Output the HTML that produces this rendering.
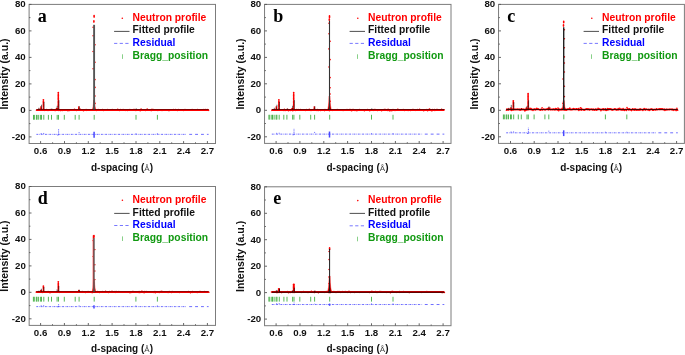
<!DOCTYPE html>
<html><head><meta charset="utf-8"><title>Neutron diffraction profiles</title>
<style>html,body{margin:0;padding:0;background:#fff}svg{display:block;will-change:transform}</style></head>
<body>
<svg width="685" height="355" viewBox="0 0 685 355" font-family="'Liberation Sans', Arial, sans-serif" font-weight="bold">
<rect width="685" height="355" fill="#fff"/>
<g><g stroke="#f00" fill="none"><path d="M36.4 110H208.6" stroke-width="2.0"/><path d="M38.4 110V109.2M40.9 110V106.9M43.4 110V99.3M51.2 110V110M56.6 110V107.5M58.3 110V92.6M78.8 110V106.7M135.7 110V109.9" stroke-width="1.8" stroke-linecap="round" stroke-dasharray="0 1.45"/><path d="M91.9 110Q93.4 108.5 93.6 100h1Q94.8 108.5 96.3 110z" fill="#f00" stroke-width="0.4"/><path d="M94.1 15.5v1.6M93.9 20.9v1.2M93.1 27.3h0M93.1 35.8h0M95 44.8h0M93.1 51.5h0M95 62.2h0M93.1 68.8h0M95 79.6h0M95 87.4h0M95 96h0M95 103.4h0M36.5 110.25h0M37 109.95h0M37.7 109.74h0M38.2 110.12h0M39 109.42h0M39.7 109.86h0M40.5 109.55h0M40.8 110.27h0M41.5 109.78h0M42.6 110.22h0M42.8 110.16h0M43.5 109.94h0M44.2 110.1h0M44.8 110.33h0M45.7 109.8h0M46.5 109.48h0M46.7 110.16h0M48 110.42h0M48.4 110.19h0M48.7 110.29h0M49.7 110.18h0M50.2 109.47h0M50.8 109.92h0M51.9 109.87h0M52.1 110.1h0M52.7 110.18h0M53.9 110.15h0M54.5 110.33h0M54.7 109.95h0M55.5 110.38h0M56.3 109.53h0M56.8 110.14h0M57.5 109.7h0M58.6 109.62h0M58.9 110.39h0M59.8 109.91h0M60 110.07h0M60.8 110.61h0M61.8 109.83h0M62.4 110.47h0M63.1 109.78h0M63.4 110h0M64.1 109.78h0M65.1 110.09h0M65.8 109.93h0M66.2 109.85h0M67.3 109.94h0M67.5 110.4h0M68 110.63h0M69 109.86h0M69.6 110.4h0M70.4 109.75h0M70.7 110.18h0M71.6 109.92h0M72.2 110.06h0M72.9 110.01h0M73.5 109.87h0M74.5 109.36h0M74.7 110.24h0M75.9 110.17h0M76.4 110.4h0M77.1 110.31h0M77.4 109.79h0M78 109.85h0M79.1 109.84h0M79.8 110.08h0M80.4 109.42h0M80.7 110.07h0M81.6 110.17h0M82.3 109.78h0M82.8 110.23h0M83.5 110.64h0M84.1 110.12h0M84.9 110.17h0M85.7 110.06h0M86.1 109.55h0M86.7 110.34h0M87.6 110.04h0M88 110.19h0M89.1 110.09h0M89.8 110.03h0M90.1 109.95h0M90.8 110.12h0M91.8 110.17h0M92.4 110.27h0M93.1 109.78h0M93.6 109.83h0M94.3 109.83h0M95 109.75h0M95.6 110.01h0M96 110h0M96.8 110.54h0M97.6 110.14h0M98.2 109.56h0M98.7 110.3h0M99.5 110.08h0M100.2 110.02h0M100.9 110.1h0M101.3 110.19h0M102.2 110.24h0M102.6 109.67h0M103.6 110.51h0M104.2 109.85h0M105 109.86h0M105.4 110.03h0M106.4 110.06h0M106.8 109.79h0M107.7 109.55h0M107.9 110.25h0M108.8 109.99h0M109.3 109.92h0M110 110.04h0M111 109.87h0M111.2 110.17h0M112.2 109.56h0M113.1 109.94h0M113.5 110.3h0M114.1 109.88h0M114.9 110.28h0M115.6 110.31h0M116.4 110.22h0M116.6 110.24h0M117.7 109.38h0M118.2 110.18h0M118.8 110.11h0M119.4 110.46h0M120.1 110.15h0M120.8 109.64h0M121.8 110.1h0M122.2 110.18h0M123.1 109.43h0M123.4 110.08h0M124.2 110.05h0M124.6 110.14h0M125.4 110.35h0M126.2 110.09h0M127.1 109.68h0M127.7 110.46h0M128.2 109.92h0M128.8 109.86h0M129.7 109.8h0M129.9 109.53h0M130.9 109.85h0M131.4 109.93h0M131.9 110.05h0M132.9 110.12h0M133.7 109.62h0M134.3 109.91h0M134.5 109.46h0M135.3 110.14h0M135.9 110.49h0M136.8 110.05h0M137.4 109.77h0M138.2 109.99h0M138.7 110.25h0M139.4 109.77h0M140.2 110.79h0M141.1 109.17h0M141.6 109.74h0M142 109.95h0M142.9 110.28h0M143.6 110.06h0M143.9 110.1h0M144.6 110.16h0M145.6 110.38h0M146.1 109.98h0M146.5 109.83h0M147.2 109.16h0M148.2 110.17h0M148.7 110.31h0M149.3 110.11h0M150 109.93h0M151 110.48h0M151.7 110.43h0M152 109.34h0M152.7 110.01h0M153.2 109.96h0M153.8 109.55h0M155 109.87h0M155.3 110.14h0M156.3 110.1h0M156.7 110.23h0M157.6 109.84h0M157.9 110.52h0M158.9 110.3h0M159.7 109.83h0M160 110.04h0M161 110.18h0M161.5 109.82h0M162 110.48h0M162.8 110.13h0M163.5 110.13h0M164.3 110.11h0M164.7 110.11h0M165.3 110.11h0M165.8 110.16h0M166.7 109.76h0M167.6 109.93h0M168.1 109.99h0M168.5 110.44h0M169.4 110.38h0M169.9 109.97h0M170.6 109.92h0M171.5 110.03h0M172 109.99h0M172.6 110.05h0M173.4 109.62h0M173.9 109.98h0M175 110.22h0M175.6 109.56h0M176.3 109.79h0M177 109.95h0M177.4 110.39h0M178.2 109.77h0M178.8 109.55h0M179.1 110.28h0M180 109.87h0M180.6 110.31h0M181.7 109.86h0M182.3 110.14h0M182.5 109.91h0M183.3 110.51h0M183.8 109.94h0M185 109.43h0M185.4 109.68h0M186.2 110.22h0M186.6 109.94h0M187.1 110.21h0M187.9 109.78h0M188.6 110.22h0M189.3 110.28h0M190.2 110.07h0M190.4 110.24h0M191.6 110.03h0M192.1 109.63h0M192.5 109.87h0M193.2 109.97h0M194.1 110.1h0M194.5 110.32h0M195.1 110.11h0M196.3 109.9h0M196.7 110.06h0M197.6 109.62h0M198.3 110.22h0M198.5 110.07h0M199.4 109.7h0M200.1 110.11h0M200.7 109.78h0M201.4 110.24h0M202 110.31h0M202.4 109.97h0M203.3 109.99h0M203.9 109.62h0M204.8 109.77h0M205.6 109.49h0M205.7 110.18h0M206.9 110.32h0M207.2 109.53h0M207.9 109.86h0M208.6 110.34h0" stroke-width="1.6" stroke-linecap="round"/></g><path d="M36.4 109.5H208.6" stroke="#000" stroke-opacity="0.48" stroke-width="1.0" fill="none"/><path d="M38.9 109.5V107.78M41.5 109.5V104.73M44 109.5V101.95M51.8 109.5V108.44M57.2 109.5V105.79M58.9 109.5V99.96M79.3 109.5V106.32M136.2 109.5V108.31" stroke="#000" stroke-opacity=".72" stroke-width="0.8" fill="none"/><path d="M92.7 110Q93.7 108.5 93.8 101.5h.6Q94.5 108.5 95.5 110z" fill="#000" fill-opacity=".5"/><path d="M94.1 109.5V24.8" stroke="#555" stroke-width="1.9" fill="none"/><path d="M33.5 114.9v4.8M34.4 114.9v4.8M36.4 114.9v4.8M37.1 114.9v4.8M38.7 114.9v4.8M40.6 114.9v4.8M41.5 114.9v4.8M43.8 114.9v4.8M48.4 114.9v4.8M51.5 114.9v4.8M57.2 114.9v4.8M58.5 114.9v4.8M64.3 114.9v4.8M75.2 114.9v4.8M79.1 114.9v4.8M94.2 114.9v4.8M136 114.9v4.8M157.4 114.9v4.8" stroke="#2aa52a" stroke-width="0.8" fill="none"/><g fill="none" stroke="#4848ff" stroke-width="0.8"><path d="M36.4 134.36H186.8" stroke-dasharray="1.9 .9 .6 .9"/><path d="M189.2 134.36H208.6" stroke-dasharray="2.9 3"/><path d="M58.6 135.26V129.06" stroke-dasharray="1.1 .7"/><path d="M57.7 135.56v-1M79.1 133.16v-1M41.2 133.96v-0.9M43.7 133.96v-1M136 133.96v-.7M157.4 133.96v-.7"/><path d="M94.1 131.76V137.76" stroke-width="1.5"/></g><rect x="29.1" y="4.4" width="186.4" height="139.1" fill="none" stroke="#7c7c7c" stroke-width="1"/><path d="M29.1 136.9h2.4M29.1 123.6h1.3M29.1 110.4h2.4M29.1 97.1h1.3M29.1 83.9h2.4M29.1 70.6h1.3M29.1 57.4h2.4M29.1 44.1h1.3M29.1 30.9h2.4M29.1 17.6h1.3M29.1 4.4h2.4M40.6 143.5v-2.4M52.6 143.5v-1.2M64.5 143.5v-2.4M76.4 143.5v-1.2M88.3 143.5v-2.4M100.2 143.5v-1.2M112.1 143.5v-2.4M124 143.5v-1.2M136 143.5v-2.4M147.9 143.5v-1.2M159.8 143.5v-2.4M171.7 143.5v-1.2M183.6 143.5v-2.4M195.5 143.5v-1.2M207.4 143.5v-2.4" stroke="#555" stroke-width="0.9" fill="none"/><text x="25.7" y="139.8" font-size="9.7" text-anchor="end" fill="#111">-20</text><text x="25.7" y="113.3" font-size="9.7" text-anchor="end" fill="#111">0</text><text x="25.7" y="86.8" font-size="9.7" text-anchor="end" fill="#111">20</text><text x="25.7" y="60.3" font-size="9.7" text-anchor="end" fill="#111">40</text><text x="25.7" y="33.8" font-size="9.7" text-anchor="end" fill="#111">60</text><text x="25.7" y="7.4" font-size="9.7" text-anchor="end" fill="#111">80</text><text x="40.6" y="154" font-size="9.7" text-anchor="middle" fill="#111">0.6</text><text x="64.5" y="154" font-size="9.7" text-anchor="middle" fill="#111">0.9</text><text x="88.3" y="154" font-size="9.7" text-anchor="middle" fill="#111">1.2</text><text x="112.1" y="154" font-size="9.7" text-anchor="middle" fill="#111">1.5</text><text x="136" y="154" font-size="9.7" text-anchor="middle" fill="#111">1.8</text><text x="159.8" y="154" font-size="9.7" text-anchor="middle" fill="#111">2.1</text><text x="183.6" y="154" font-size="9.7" text-anchor="middle" fill="#111">2.4</text><text x="207.4" y="154" font-size="9.7" text-anchor="middle" fill="#111">2.7</text><text x="122" y="170.6" font-size="10" text-anchor="middle" fill="#111">d-spacing (<tspan font-size="8" font-weight="normal" fill="#444">Å</tspan>)</text><text transform="translate(8.3 74) rotate(-90)" font-size="10.5" text-anchor="middle" fill="#111">Intensity (a.u.)</text><text x="37.7" y="21.6" font-family="'Liberation Serif', 'Times New Roman', serif" font-size="18" fill="#000">a</text><circle cx="122.3" cy="18.2" r="0.8" fill="#f00"/><text x="132.5" y="20.7" font-size="10.3" fill="#f00">Neutron profile</text><path d="M114.1 31.4h15.4" stroke="#222" stroke-width="0.8"/><text x="132.5" y="33.4" font-size="10.3" fill="#111">Fitted profile</text><path d="M114.1 43.4h15.4" stroke="#55f" stroke-width="0.8" stroke-dasharray="3.2 2.4"/><text x="132.5" y="46" font-size="10.3" fill="#00f">Residual</text><path d="M122.5 54.3v4.6" stroke="#5b5" stroke-width="0.7"/><text x="132.5" y="58.6" font-size="10.3" fill="#191">Bragg_position</text></g>
<g><g stroke="#f00" fill="none"><path d="M271.8 110H444.3" stroke-width="2.0"/><path d="M273.8 110V109.1M276.3 110V106.9M278.9 110V99.2M286.6 110V109.9M292.1 110V107.4M293.7 110V92.6M314.3 110V106.6M371.2 110V109.8" stroke-width="1.8" stroke-linecap="round" stroke-dasharray="0 1.45"/><path d="M327.2 110Q328.8 108.5 329 96h1Q330.2 108.5 331.8 110z" fill="#f00" stroke-width="0.4"/><path d="M329.5 15.9v1.6M329.3 19.1v1.2M329 23.3h0M329 33.7h0M330.1 41.2h0M329 48.9h0M330.1 59.6h0M329 67h0M330.1 77.6h0M330.1 87.8h0M330.1 94h0M330.1 101.2h0M271.9 110.33h0M272.7 110.01h0M273.3 110.32h0M273.8 110.1h0M274.6 109.89h0M275 110h0M275.5 110.14h0M276.3 110.17h0M277.2 110.15h0M277.9 109.74h0M278.5 109.72h0M279.1 109.64h0M279.5 109.95h0M280.2 110.07h0M281.1 109.96h0M281.8 110.09h0M282.2 109.92h0M283 110.23h0M283.9 110.4h0M284.4 109.39h0M285.3 110.47h0M285.5 110.3h0M286.2 110.08h0M286.8 110.14h0M287.6 109.21h0M288.5 110.69h0M288.9 110.25h0M289.6 109.9h0M290.4 110.49h0M291.2 110.17h0M291.5 109.57h0M292.4 110.58h0M293.2 110.52h0M293.6 109.95h0M294.4 110.07h0M295.3 110.46h0M295.6 110.27h0M296.4 109.53h0M297.4 109.72h0M297.9 109.68h0M298.2 109.62h0M299 109.69h0M299.5 109.94h0M300.6 109.57h0M301.2 109.94h0M301.7 110.14h0M302.5 110.07h0M303.2 110.14h0M303.6 109.8h0M304.2 110.11h0M304.8 109.85h0M305.8 110.44h0M306.3 109.48h0M307.1 109.97h0M307.5 110.12h0M308.6 109.93h0M309.3 109.31h0M309.6 110.06h0M310.5 110.34h0M311.3 110.34h0M311.9 109.77h0M312.2 110.25h0M313 110.26h0M313.5 110.24h0M314.5 109.87h0M315.3 110.07h0M315.9 109.92h0M316.2 110.2h0M317 110.51h0M317.7 109.66h0M318.4 110.5h0M319 109.73h0M319.7 109.79h0M320.6 110.47h0M321 110.04h0M322 109.98h0M322.6 110.26h0M323 110.03h0M323.6 110.13h0M324.4 110.61h0M325 109.67h0M325.8 109.73h0M326.1 110.1h0M327.2 109.77h0M327.7 109.82h0M328.4 109.78h0M329.3 110.61h0M329.8 110.45h0M330.4 109.95h0M330.8 110.14h0M331.5 110.29h0M332.5 110.36h0M333.1 109.68h0M333.5 110.05h0M334.1 109.9h0M334.8 110.3h0M335.5 110.03h0M336.5 109.95h0M337.2 109.56h0M337.6 109.72h0M338.1 109.82h0M339.1 110.22h0M339.4 109.8h0M340.4 109.86h0M340.8 110.04h0M341.6 109.9h0M342.4 110.06h0M343.1 110.48h0M343.5 109.83h0M344.4 110.07h0M345.1 109.83h0M345.6 110.06h0M346.1 109.73h0M347 109.66h0M347.7 110.15h0M348.1 110.21h0M348.8 109.69h0M349.4 109.64h0M350.3 109.57h0M350.7 109.8h0M351.5 110.75h0M352.2 109.62h0M352.9 110.35h0M353.7 109.56h0M354.4 110.34h0M354.9 109.76h0M355.5 110.36h0M356.4 109.88h0M356.9 110.65h0M357.7 110.29h0M358.4 110.2h0M359.1 110.08h0M359.6 109.6h0M360.1 109.89h0M361 110.21h0M361.6 109.72h0M362.4 109.96h0M363.2 109.72h0M363.6 110.15h0M364.4 110.65h0M364.7 109.94h0M365.6 110.15h0M366.5 109.85h0M366.7 110.06h0M367.6 109.66h0M368.4 110.29h0M368.9 110.15h0M369.7 110.78h0M370.3 110.31h0M371 110.02h0M371.7 110.31h0M372.6 110.09h0M373.3 110.03h0M373.8 110.34h0M374.1 109.48h0M375.1 109.48h0M375.6 110.01h0M376.2 110.32h0M377.3 110.08h0M377.6 110.44h0M378.6 110.07h0M378.8 109.98h0M379.5 110.31h0M380.5 110.16h0M381.2 110.08h0M381.6 110.64h0M382.2 110.08h0M382.8 110.19h0M383.4 110.13h0M384.1 109.55h0M384.8 109.63h0M385.5 109.65h0M386.5 109.99h0M387.1 110.18h0M387.7 110.42h0M388.1 109.38h0M388.9 109.92h0M389.4 110.65h0M390.1 110.75h0M391.1 110.26h0M391.8 110.73h0M392.3 109.86h0M393 109.59h0M393.8 109.97h0M394.5 110.11h0M395 110.4h0M395.7 110.27h0M396.5 110.12h0M397.3 110.02h0M397.6 109.35h0M398.5 110.03h0M398.8 109.56h0M399.8 109.74h0M400.2 109.81h0M401.2 110.26h0M401.7 110.23h0M402.2 110.03h0M403.2 109.58h0M403.8 110.03h0M404.4 110.43h0M405 110.26h0M405.6 110.22h0M406.3 109.89h0M407.1 109.77h0M407.8 110.12h0M408.1 110.39h0M408.9 109.95h0M409.6 110.16h0M410.5 110.41h0M411.1 109.78h0M411.9 109.93h0M412.4 109.55h0M413.1 109.72h0M413.8 109.43h0M414.1 109.96h0M415.1 110.34h0M415.9 110.16h0M416.5 110.06h0M416.7 110.15h0M417.7 109.59h0M418.2 109.7h0M419.3 110.13h0M419.6 109.4h0M420.6 109.82h0M421.1 109.82h0M421.6 109.95h0M422.3 109.74h0M422.9 110.02h0M423.7 110.68h0M424.3 110.04h0M425.3 109.89h0M425.4 110.17h0M426.2 110.12h0M426.9 109.44h0M427.6 110.69h0M428.2 109.98h0M428.8 109.62h0M429.6 109.16h0M430.5 110.26h0M431 110.23h0M431.5 110.72h0M432.3 109.59h0M432.8 110.43h0M433.5 110.31h0M434.5 109.64h0M434.9 110.47h0M435.8 109.87h0M436.4 109.65h0M437.1 110.17h0M437.6 109.57h0M438 110.01h0M439 109.99h0M439.6 110.18h0M440 110.07h0M440.7 110.12h0M441.6 109.37h0M442 109.92h0M443.2 109.95h0M443.5 110.06h0M444 109.87h0" stroke-width="1.6" stroke-linecap="round"/></g><path d="M271.8 109.5H444.3" stroke="#000" stroke-opacity="0.55" stroke-width="1.0" fill="none"/><path d="M274.3 109.5V107.78M276.9 109.5V104.73M279.4 109.5V101.95M287.2 109.5V108.44M292.6 109.5V105.79M294.3 109.5V99.97M314.8 109.5V106.32M371.8 109.5V108.31" stroke="#000" stroke-opacity=".72" stroke-width="0.8" fill="none"/><path d="M328 110Q329.1 108.5 329.2 97.5h.6Q329.9 108.5 331 110z" fill="#000" fill-opacity=".5"/><path d="M329.5 109.5V20.8" stroke="#333" stroke-width="1.1" fill="none"/><path d="M268.9 114.8v4.8M269.8 114.8v4.8M271.8 114.8v4.8M272.5 114.8v4.8M274.1 114.8v4.8M276.1 114.8v4.8M276.9 114.8v4.8M279.2 114.8v4.8M283.8 114.8v4.8M286.9 114.8v4.8M292.6 114.8v4.8M293.9 114.8v4.8M299.8 114.8v4.8M310.7 114.8v4.8M314.6 114.8v4.8M329.7 114.8v4.8M371.5 114.8v4.8M393 114.8v4.8" stroke="#2aa52a" stroke-width="0.8" fill="none"/><g fill="none" stroke="#4848ff" stroke-width="0.8"><path d="M271.8 134.13H422.4" stroke-dasharray="1.9 .9 .6 .9"/><path d="M424.8 134.13H444.3" stroke-dasharray="2.9 3"/><path d="M294 135.03V128.83" stroke-dasharray="1.1 .7"/><path d="M293.1 135.33v-1M314.6 132.93v-1M276.6 133.73v-0.9M279.2 133.73v-1M371.5 133.73v-.7M393 133.73v-.7"/><path d="M329.5 131.53V137.53" stroke-width="1.5"/></g><rect x="264.55" y="4.4" width="186.45" height="139" fill="none" stroke="#7c7c7c" stroke-width="1"/><path d="M264.6 136.8h2.4M264.6 123.5h1.3M264.6 110.3h2.4M264.6 97.1h1.3M264.6 83.8h2.4M264.6 70.6h1.3M264.6 57.4h2.4M264.6 44.1h1.3M264.6 30.9h2.4M264.6 17.6h1.3M264.6 4.4h2.4M276.1 143.4v-2.4M288 143.4v-1.2M299.9 143.4v-2.4M311.8 143.4v-1.2M323.8 143.4v-2.4M335.7 143.4v-1.2M347.6 143.4v-2.4M359.6 143.4v-1.2M371.5 143.4v-2.4M383.4 143.4v-1.2M395.4 143.4v-2.4M407.3 143.4v-1.2M419.2 143.4v-2.4M431.2 143.4v-1.2M443.1 143.4v-2.4" stroke="#555" stroke-width="0.9" fill="none"/><text x="261.2" y="139.7" font-size="9.7" text-anchor="end" fill="#111">-20</text><text x="261.2" y="113.3" font-size="9.7" text-anchor="end" fill="#111">0</text><text x="261.2" y="86.8" font-size="9.7" text-anchor="end" fill="#111">20</text><text x="261.2" y="60.3" font-size="9.7" text-anchor="end" fill="#111">40</text><text x="261.2" y="33.8" font-size="9.7" text-anchor="end" fill="#111">60</text><text x="261.2" y="7.4" font-size="9.7" text-anchor="end" fill="#111">80</text><text x="276.1" y="153.9" font-size="9.7" text-anchor="middle" fill="#111">0.6</text><text x="299.9" y="153.9" font-size="9.7" text-anchor="middle" fill="#111">0.9</text><text x="323.8" y="153.9" font-size="9.7" text-anchor="middle" fill="#111">1.2</text><text x="347.6" y="153.9" font-size="9.7" text-anchor="middle" fill="#111">1.5</text><text x="371.5" y="153.9" font-size="9.7" text-anchor="middle" fill="#111">1.8</text><text x="395.4" y="153.9" font-size="9.7" text-anchor="middle" fill="#111">2.1</text><text x="419.2" y="153.9" font-size="9.7" text-anchor="middle" fill="#111">2.4</text><text x="443.1" y="153.9" font-size="9.7" text-anchor="middle" fill="#111">2.7</text><text x="357.5" y="170.5" font-size="10" text-anchor="middle" fill="#111">d-spacing (<tspan font-size="8" font-weight="normal" fill="#444">Å</tspan>)</text><text transform="translate(243.8 74) rotate(-90)" font-size="10.5" text-anchor="middle" fill="#111">Intensity (a.u.)</text><text x="273.2" y="21.6" font-family="'Liberation Serif', 'Times New Roman', serif" font-size="18" fill="#000">b</text><circle cx="357.8" cy="18.2" r="0.8" fill="#f00"/><text x="368" y="20.7" font-size="10.3" fill="#f00">Neutron profile</text><path d="M349.6 31.4h15.4" stroke="#222" stroke-width="0.8"/><text x="368" y="33.4" font-size="10.3" fill="#111">Fitted profile</text><path d="M349.6 43.4h15.4" stroke="#55f" stroke-width="0.8" stroke-dasharray="3.2 2.4"/><text x="368" y="46" font-size="10.3" fill="#00f">Residual</text><path d="M357.5 54.3v4.6" stroke="#5b5" stroke-width="0.7"/><text x="368" y="58.6" font-size="10.3" fill="#191">Bragg_position</text></g>
<g><g stroke="#f00" fill="none"><path d="M506.2 109.5H677.8" stroke-width="1.7"/><path d="M508.2 109.5V109.2M510.8 109.5V107M513.3 109.5V99.5M521 109.5V109.9M526.4 109.5V107.5M528.1 109.5V93.1M548.5 109.5V106.7M605.1 109.5V109.8" stroke-width="1.8" stroke-linecap="round" stroke-dasharray="0 1.45"/><path d="M561.6 109.5Q563 108 563.2 100.5h1Q564.4 108 565.8 109.5z" fill="#f00" stroke-width="0.4"/><path d="M563.7 21.2v1.6M563.5 24.9v1.2M564.4 29.7h0M564.4 38.7h0M564.4 47.8h0M564.4 56.9h0M564.4 63h0M564.4 72h0M563 79h0M564.4 86.2h0M564.4 96.6h0M563 103.4h0M506.4 110.32h0M507 109.02h0M507.5 109.78h0M508.3 110.07h0M508.7 109.25h0M509.3 109.34h0M510.5 109.45h0M510.9 109.31h0M511.6 110.46h0M512.3 110.01h0M513.1 108.84h0M513.3 109.6h0M514 109.34h0M515 109.63h0M515.2 109.19h0M516.3 109.56h0M516.8 109.34h0M517.7 109.47h0M517.9 109.08h0M519 109.74h0M519.4 109.36h0M520.1 110.3h0M520.7 109.69h0M521.6 108.83h0M522.2 109.6h0M522.5 109.49h0M523.7 109.31h0M524.3 110.23h0M524.9 110.94h0M525.6 110.26h0M526.4 108.62h0M527 109.81h0M527.1 109.8h0M527.9 109.17h0M528.5 109.29h0M529.1 109.2h0M530 108.3h0M531 108.44h0M531.4 109.76h0M531.9 109.38h0M533 110.39h0M533.1 109.98h0M534.1 109.17h0M534.9 108.94h0M535.2 109.89h0M535.9 109.4h0M536.8 108.29h0M537.3 108.97h0M538.1 108.92h0M538.4 109.13h0M539.5 109.77h0M539.9 109.93h0M540.6 110.29h0M541.4 109.24h0M542.1 107.85h0M542.4 109.91h0M543.1 109.52h0M543.9 109.07h0M544.7 109.68h0M545.1 109.89h0M545.9 109.36h0M546.6 109.23h0M547.4 108.76h0M548.1 108.8h0M548.8 109.2h0M549.6 109.12h0M549.9 107.97h0M550.6 109.63h0M551.4 109.45h0M552.2 109.42h0M552.7 109.74h0M553.4 109.02h0M554.1 109.18h0M554.3 109.87h0M555.5 108.58h0M555.7 109.81h0M556.4 108.91h0M557.5 109.95h0M558 108.1h0M558.7 110.69h0M559 109.1h0M559.9 109.75h0M560.4 109.47h0M561.1 109.9h0M562.1 108.65h0M562.5 109.61h0M563 109.76h0M564.1 109.77h0M564.3 108.63h0M565 110.28h0M565.8 109.42h0M566.4 110.31h0M567.1 109.65h0M567.9 108.99h0M568.2 108.95h0M568.9 109.37h0M569.8 108.17h0M570.3 109.64h0M570.9 109.21h0M571.9 109.85h0M572.5 108.96h0M572.9 109.24h0M573.7 108.54h0M574.2 108.92h0M575.2 109.38h0M575.7 109.2h0M576.3 108.87h0M576.9 108.98h0M577.9 109.42h0M578.4 108.59h0M578.9 110.41h0M579.6 109.33h0M580.4 107.87h0M581.2 110.15h0M581.5 108.33h0M582.7 109.49h0M583.3 109.99h0M583.8 109.68h0M584.5 110.11h0M584.8 110.09h0M585.7 109.27h0M586.5 108.91h0M587.3 109.36h0M587.8 108.79h0M588.1 109.5h0M588.9 108.98h0M589.5 109.91h0M590.3 109.37h0M591.3 109.27h0M591.8 109.13h0M592.5 109.91h0M593.3 109.24h0M593.9 109.6h0M594.2 110.16h0M594.9 109.9h0M595.8 108.96h0M596.2 109.64h0M596.7 110.14h0M597.4 109.39h0M598.1 108.36h0M599.2 109.06h0M599.8 109.06h0M600.4 109.46h0M600.9 110.78h0M601.5 109.82h0M602.3 109.13h0M603.2 110.07h0M603.5 108.71h0M604.1 109.22h0M604.8 109.78h0M605.4 109.28h0M606.1 110.44h0M606.9 110.31h0M607.5 108.48h0M608.3 109.65h0M608.6 108.8h0M609.6 108.78h0M610.1 108.74h0M610.8 109.08h0M611.6 109.27h0M612.1 110.25h0M612.9 109.81h0M613.3 109.65h0M613.9 109.56h0M614.7 108.83h0M615.7 109.17h0M616.2 109.99h0M617 109.83h0M617.6 109.73h0M618.2 108.57h0M618.7 109.72h0M619.7 108.32h0M620 108.74h0M620.7 109.82h0M621.5 109.24h0M622.1 110.15h0M623.1 108.45h0M623.6 109.82h0M623.9 110.31h0M624.5 110.46h0M625.5 109.57h0M626.4 110.5h0M627 107.62h0M627.5 108.91h0M628.3 109.17h0M628.5 109.84h0M629.5 108.88h0M629.9 109.7h0M630.8 109.88h0M631.5 110.59h0M632.2 109.68h0M632.7 108.91h0M633.5 109.59h0M634.2 110.27h0M635 108.81h0M635.1 109.96h0M636 109.66h0M636.7 110.16h0M637.6 109.81h0M637.9 109.92h0M639 110.11h0M639.1 110.16h0M640.1 108.89h0M640.5 109.86h0M641.5 109.56h0M642 109.81h0M642.9 110.47h0M643.3 109.58h0M644.2 108.66h0M644.6 108.75h0M645.3 110.08h0M646.2 109.16h0M646.8 109.53h0M647.4 109.71h0M648.1 109.66h0M648.7 109.47h0M649.2 110.51h0M650 109.93h0M650.5 109.18h0M651.4 108.96h0M651.9 109.09h0M652.6 110.18h0M653.5 110.13h0M653.8 109.97h0M654.4 109.54h0M655.6 109.94h0M656 109.59h0M656.5 108.75h0M657.1 109.7h0M658.2 109.2h0M658.6 109.23h0M659.3 108.72h0M659.9 109.4h0M660.3 108.86h0M661.3 108.81h0M661.8 109.17h0M662.3 108.83h0M663.4 109.75h0M664.1 109.16h0M664.7 109.55h0M664.9 110.39h0M666.1 109.69h0M666.5 109.29h0M667 109.85h0M667.9 109.46h0M668.2 109.44h0M669.4 109.6h0M669.6 109.41h0M670.2 109.21h0M671.4 109.27h0M671.8 109.73h0M672.4 109.18h0M673.2 110.33h0M674 109.71h0M674.4 109.79h0M675.3 109.7h0M676.1 110.59h0M676.4 110.15h0M676.9 108.35h0M677.7 110.28h0" stroke-width="1.6" stroke-linecap="round"/></g><path d="M506.2 109.5H677.8" stroke="#000" stroke-opacity="0.7" stroke-width="1.0" fill="none"/><path d="M508.8 109.5V107.83M511.3 109.5V104.88M513.8 109.5V102.18M521.6 109.5V108.47M527 109.5V105.9M528.6 109.5V100.25M549 109.5V106.42M605.7 109.5V108.34" stroke="#000" stroke-opacity=".72" stroke-width="0.8" fill="none"/><path d="M562.4 110Q563.3 108.5 563.4 102.5h.6Q564.1 108.5 565 110z" fill="#000" fill-opacity=".5"/><path d="M563.7 109.5V27.2" stroke="#222" stroke-width="1.4" fill="none"/><path d="M503.4 114.5v4.8M504.3 114.5v4.8M506.2 114.5v4.8M506.9 114.5v4.8M508.5 114.5v4.8M510.5 114.5v4.8M511.4 114.5v4.8M513.7 114.5v4.8M518.3 114.5v4.8M521.3 114.5v4.8M527 114.5v4.8M528.3 114.5v4.8M534.1 114.5v4.8M544.9 114.5v4.8M548.8 114.5v4.8M563.8 114.5v4.8M605.4 114.5v4.8M626.8 114.5v4.8" stroke="#2aa52a" stroke-width="0.8" fill="none"/><g fill="none" stroke="#4848ff" stroke-width="0.8"><path d="M506.2 132.81H656" stroke-dasharray="1.9 .9 .6 .9"/><path d="M658.4 132.81H677.8" stroke-dasharray="2.9 3"/><path d="M528.4 133.67V127.72" stroke-dasharray="1.1 .7"/><path d="M527.5 133.96v-1M548.8 131.66v-0.96M511.1 132.41v-0.9M513.6 132.41v-1M605.4 132.41v-.7M626.8 132.41v-.7"/><path d="M563.7 130.31V136.08" stroke-width="1.5"/></g><rect x="498.55" y="4.4" width="185.85" height="139" fill="none" stroke="#7c7c7c" stroke-width="1"/><path d="M498.6 136.8h2.4M498.6 123.5h1.3M498.6 110.3h2.4M498.6 97.1h1.3M498.6 83.8h2.4M498.6 70.6h1.3M498.6 57.4h2.4M498.6 44.1h1.3M498.6 30.9h2.4M498.6 17.6h1.3M498.6 4.4h2.4M510.5 143.4v-2.4M522.4 143.4v-1.2M534.2 143.4v-2.4M546.1 143.4v-1.2M558 143.4v-2.4M569.8 143.4v-1.2M581.7 143.4v-2.4M593.5 143.4v-1.2M605.4 143.4v-2.4M617.3 143.4v-1.2M629.1 143.4v-2.4M641 143.4v-1.2M652.9 143.4v-2.4M664.7 143.4v-1.2M676.6 143.4v-2.4" stroke="#555" stroke-width="0.9" fill="none"/><text x="495.2" y="139.7" font-size="9.7" text-anchor="end" fill="#111">-20</text><text x="495.2" y="113.3" font-size="9.7" text-anchor="end" fill="#111">0</text><text x="495.2" y="86.8" font-size="9.7" text-anchor="end" fill="#111">20</text><text x="495.2" y="60.3" font-size="9.7" text-anchor="end" fill="#111">40</text><text x="495.2" y="33.8" font-size="9.7" text-anchor="end" fill="#111">60</text><text x="495.2" y="7.4" font-size="9.7" text-anchor="end" fill="#111">80</text><text x="510.5" y="153.9" font-size="9.7" text-anchor="middle" fill="#111">0.6</text><text x="534.2" y="153.9" font-size="9.7" text-anchor="middle" fill="#111">0.9</text><text x="558" y="153.9" font-size="9.7" text-anchor="middle" fill="#111">1.2</text><text x="581.7" y="153.9" font-size="9.7" text-anchor="middle" fill="#111">1.5</text><text x="605.4" y="153.9" font-size="9.7" text-anchor="middle" fill="#111">1.8</text><text x="629.1" y="153.9" font-size="9.7" text-anchor="middle" fill="#111">2.1</text><text x="652.9" y="153.9" font-size="9.7" text-anchor="middle" fill="#111">2.4</text><text x="676.6" y="153.9" font-size="9.7" text-anchor="middle" fill="#111">2.7</text><text x="591.2" y="170.5" font-size="10" text-anchor="middle" fill="#111">d-spacing (<tspan font-size="8" font-weight="normal" fill="#444">Å</tspan>)</text><text transform="translate(477.8 74) rotate(-90)" font-size="10.5" text-anchor="middle" fill="#111">Intensity (a.u.)</text><text x="507.2" y="21.6" font-family="'Liberation Serif', 'Times New Roman', serif" font-size="18" fill="#000">c</text><circle cx="591.8" cy="18.2" r="0.8" fill="#f00"/><text x="602" y="20.7" font-size="10.3" fill="#f00">Neutron profile</text><path d="M583.6 31.4h15.4" stroke="#222" stroke-width="0.8"/><text x="602" y="33.4" font-size="10.3" fill="#111">Fitted profile</text><path d="M583.6 43.4h15.4" stroke="#55f" stroke-width="0.8" stroke-dasharray="3.2 2.4"/><text x="602" y="46" font-size="10.3" fill="#00f">Residual</text><path d="M591.5 54.3v4.6" stroke="#5b5" stroke-width="0.7"/><text x="602" y="58.6" font-size="10.3" fill="#191">Bragg_position</text></g>
<g><g stroke="#f00" fill="none"><path d="M36.3 292H208.6" stroke-width="2.0"/><path d="M38.3 292V291.9M40.9 292V290.5M43.4 292V285.7M56.6 292V290.8M58.3 292V281.6M78.8 292V290.3" stroke-width="1.8" stroke-linecap="round" stroke-dasharray="0 1.45"/><path d="M93.4 292V235.7" stroke-width="1.3" stroke-linecap="round"/><path d="M91.7 292Q93.3 290.5 93.5 280h1Q94.7 290.5 96.3 292z" fill="#f00" stroke-width="0.4"/><path d="M94 235.6v1.6M93.3 240.6h0M94.8 249.6h0M93.3 256.5h0M94.8 264.7h0M94.8 271.1h0M94.8 279.6h0M36.3 292.15h0M37.1 291.75h0M37.7 291.71h0M38.1 292.1h0M39.3 291.9h0M39.9 292.31h0M40.1 292.27h0M41.1 292.05h0M41.8 292.21h0M42.2 292.38h0M43.1 291.75h0M43.8 292.09h0M44.4 292.08h0M45.3 291.84h0M45.6 291.95h0M46.5 291.97h0M46.7 291.7h0M47.5 292.15h0M48.1 291.59h0M49.1 291.98h0M49.5 292.02h0M50 292.71h0M50.8 291.88h0M51.5 291.88h0M52.5 291.99h0M52.8 291.86h0M53.5 292.03h0M54.2 292.18h0M54.8 292.14h0M55.3 292.05h0M56.3 291.76h0M57.2 292.23h0M57.6 292.06h0M58.4 291.48h0M59.2 292.33h0M59.6 291.89h0M60.1 291.85h0M61.2 291.93h0M61.8 291.83h0M62.1 291.98h0M62.8 291.95h0M63.9 292.03h0M64.4 291.82h0M65.2 291.73h0M65.9 291.74h0M66 291.7h0M67.1 291.98h0M67.7 291.93h0M68.5 291.77h0M68.7 292.11h0M69.4 292.24h0M70 292.03h0M70.6 292.28h0M71.4 291.96h0M72 291.9h0M72.7 291.75h0M73.6 292.09h0M74.1 292.2h0M75.2 292h0M75.3 291.9h0M76.5 292.25h0M76.9 291.69h0M77.5 291.94h0M78.2 292.05h0M78.9 291.96h0M79.3 291.48h0M80.2 292.09h0M80.8 292.11h0M81.5 291.89h0M82.2 291.66h0M83.1 291.92h0M83.5 291.94h0M84.4 292.19h0M85 291.93h0M85.5 292.38h0M86.4 292.25h0M86.6 292.07h0M87.4 292.08h0M88.1 291.49h0M88.8 292.31h0M89.5 291.76h0M90.2 291.79h0M91.1 291.68h0M91.8 292.47h0M92.2 292.05h0M92.7 292.51h0M93.7 292.01h0M94.3 291.61h0M94.9 292.03h0M95.4 291.83h0M96.1 291.83h0M96.9 292.02h0M97.3 291.62h0M98.3 292.25h0M99 291.81h0M99.6 292.39h0M100.4 291.76h0M101 292.01h0M101.7 291.74h0M102.2 292.12h0M102.8 291.58h0M103.3 291.98h0M104.2 291.89h0M104.8 292.01h0M105.6 291.28h0M106.1 291.61h0M107 292.06h0M107.5 291.98h0M108.4 292.57h0M108.9 291.92h0M109.3 291.64h0M110 292.08h0M110.7 292.26h0M111.7 292.3h0M112 291.35h0M112.6 291.97h0M113.5 291.95h0M114.4 292.15h0M115 291.51h0M115.4 292.34h0M116.2 291.8h0M116.7 291.65h0M117.6 292h0M117.9 292.06h0M118.9 291.67h0M119.6 292.26h0M120 292.1h0M120.9 291.93h0M121.5 292.09h0M122.4 292.12h0M122.6 292.19h0M123.3 292.11h0M124.2 292.05h0M124.9 292.32h0M125.5 292.16h0M126 292.26h0M126.7 291.86h0M127.2 291.98h0M127.8 292.11h0M128.9 291.83h0M129.6 292.11h0M130 292.65h0M130.9 291.98h0M131.7 292.33h0M132.4 291.56h0M132.9 292.01h0M133.2 291.54h0M133.9 291.96h0M134.8 291.93h0M135.2 292.28h0M136.2 292.26h0M136.7 291.9h0M137.2 291.88h0M138.3 292.34h0M139.1 291.59h0M139.6 292.42h0M140.2 292.33h0M140.5 291.82h0M141.7 291.34h0M141.9 292.16h0M142.5 291.49h0M143.3 292.06h0M144.1 292.65h0M144.7 291.63h0M145.4 292.05h0M146.2 291.6h0M146.8 291.9h0M147.6 291.97h0M148.2 292.28h0M149 292.2h0M149.6 291.76h0M150.2 292.14h0M151 292.06h0M151.2 291.94h0M152.1 291.86h0M152.6 292.12h0M153.3 292.36h0M153.8 291.87h0M154.9 291.6h0M155.3 292.71h0M156.2 292.15h0M156.9 292.23h0M157.1 292.19h0M158.1 291.92h0M158.9 292.01h0M159.2 292.55h0M160.2 291.61h0M160.6 292.02h0M161.1 292.21h0M161.8 291.3h0M162.8 292.09h0M163.1 291.84h0M164.1 292.13h0M164.4 291.97h0M165.6 291.78h0M166.2 291.8h0M166.6 291.95h0M167.2 292.16h0M168.1 292.39h0M168.6 291.92h0M169.2 291.67h0M169.8 292.16h0M170.5 291.74h0M171.5 292.44h0M172.2 291.62h0M172.5 292.03h0M173.7 292.03h0M174 292.08h0M174.8 292.27h0M175.3 292.1h0M175.9 291.86h0M176.5 291.82h0M177.6 291.82h0M177.8 291.89h0M178.6 292.04h0M179.3 292.43h0M180.2 291.74h0M181 292.01h0M181.4 292.18h0M182 291.79h0M182.5 292.09h0M183.1 291.73h0M184 291.89h0M184.5 292.06h0M185.4 291.8h0M186.1 291.76h0M186.6 292.08h0M187.1 292.02h0M188 292.02h0M188.5 291.59h0M189.5 291.75h0M189.8 292.19h0M190.5 292.69h0M191.2 291.82h0M192.1 292.34h0M192.6 291.65h0M193.3 291.77h0M193.8 292.22h0M194.4 291.89h0M195.6 291.95h0M195.8 291.77h0M196.4 291.73h0M197.2 292.44h0M197.9 292.23h0M198.8 291.99h0M199.3 291.65h0M199.8 291.82h0M200.8 291.62h0M201.4 292.19h0M202.1 291.77h0M202.8 292.31h0M203.1 292.07h0M203.9 291.72h0M204.8 291.51h0M205.5 291.98h0M206.3 292.08h0M206.5 292.01h0M207.2 292.11h0M208.2 292.06h0M208.9 292.22h0" stroke-width="1.6" stroke-linecap="round"/></g><path d="M36.3 291.7H208.6" stroke="#000" stroke-opacity="0.38" stroke-width="1.3" fill="none"/><path d="M38.9 291.7V290.63M41.4 291.7V288.75M43.9 291.7V287.03M57.1 291.7V289.4M58.8 291.7V285.79M79.3 291.7V289.73" stroke="#000" stroke-opacity=".72" stroke-width="0.8" fill="none"/><path d="M92.5 292.2Q93.6 290.7 93.7 281.7h.6Q94.4 290.7 95.5 292.2z" fill="#000" fill-opacity=".5"/><path d="M94 291.7V238.1" stroke="#666" stroke-width="1.5" fill="none"/><path d="M33.4 296.8v4.8M34.3 296.8v4.8M36.3 296.8v4.8M37 296.8v4.8M38.6 296.8v4.8M40.6 296.8v4.8M41.5 296.8v4.8M43.8 296.8v4.8M48.4 296.8v4.8M51.5 296.8v4.8M57.1 296.8v4.8M58.5 296.8v4.8M64.3 296.8v4.8M75.2 296.8v4.8M79.1 296.8v4.8M94.2 296.8v4.8M135.9 296.8v4.8M157.4 296.8v4.8" stroke="#2aa52a" stroke-width="0.8" fill="none"/><g fill="none" stroke="#4848ff" stroke-width="0.8"><path d="M36.3 306.62H186.8" stroke-dasharray="1.9 .9 .6 .9"/><path d="M189.2 306.62H208.6" stroke-dasharray="2.9 3"/><path d="M58.6 307.1V303.77" stroke-dasharray="1.1 .7"/><path d="M57.6 307.26v-1M79.1 305.97v-0.54M41.2 306.22v-0.9M43.7 306.22v-1M135.9 306.22v-.7M157.4 306.22v-.7"/><path d="M94 305.22V308.44" stroke-width="1.5"/></g><rect x="29.15" y="186.5" width="186.35" height="138.9" fill="none" stroke="#7c7c7c" stroke-width="1"/><path d="M29.1 318.8h2.4M29.1 305.6h1.3M29.1 292.3h2.4M29.1 279.1h1.3M29.1 265.9h2.4M29.1 252.6h1.3M29.1 239.4h2.4M29.1 226.2h1.3M29.1 213h2.4M29.1 199.7h1.3M29.1 186.5h2.4M40.6 325.4v-2.4M52.5 325.4v-1.2M64.4 325.4v-2.4M76.4 325.4v-1.2M88.3 325.4v-2.4M100.2 325.4v-1.2M112.1 325.4v-2.4M124 325.4v-1.2M135.9 325.4v-2.4M147.9 325.4v-1.2M159.8 325.4v-2.4M171.7 325.4v-1.2M183.6 325.4v-2.4M195.5 325.4v-1.2M207.4 325.4v-2.4" stroke="#555" stroke-width="0.9" fill="none"/><text x="25.8" y="321.7" font-size="9.7" text-anchor="end" fill="#111">-20</text><text x="25.8" y="295.3" font-size="9.7" text-anchor="end" fill="#111">0</text><text x="25.8" y="268.8" font-size="9.7" text-anchor="end" fill="#111">20</text><text x="25.8" y="242.4" font-size="9.7" text-anchor="end" fill="#111">40</text><text x="25.8" y="215.9" font-size="9.7" text-anchor="end" fill="#111">60</text><text x="25.8" y="189.4" font-size="9.7" text-anchor="end" fill="#111">80</text><text x="40.6" y="335.9" font-size="9.7" text-anchor="middle" fill="#111">0.6</text><text x="64.4" y="335.9" font-size="9.7" text-anchor="middle" fill="#111">0.9</text><text x="88.3" y="335.9" font-size="9.7" text-anchor="middle" fill="#111">1.2</text><text x="112.1" y="335.9" font-size="9.7" text-anchor="middle" fill="#111">1.5</text><text x="135.9" y="335.9" font-size="9.7" text-anchor="middle" fill="#111">1.8</text><text x="159.8" y="335.9" font-size="9.7" text-anchor="middle" fill="#111">2.1</text><text x="183.6" y="335.9" font-size="9.7" text-anchor="middle" fill="#111">2.4</text><text x="207.4" y="335.9" font-size="9.7" text-anchor="middle" fill="#111">2.7</text><text x="122" y="352.1" font-size="10" text-anchor="middle" fill="#111">d-spacing (<tspan font-size="8" font-weight="normal" fill="#444">Å</tspan>)</text><text transform="translate(8.3 256.1) rotate(-90)" font-size="10.5" text-anchor="middle" fill="#111">Intensity (a.u.)</text><text x="37.8" y="203.7" font-family="'Liberation Serif', 'Times New Roman', serif" font-size="18" fill="#000">d</text><circle cx="122.4" cy="200.3" r="0.8" fill="#f00"/><text x="132.6" y="202.8" font-size="10.3" fill="#f00">Neutron profile</text><path d="M114.2 213.4h15.4" stroke="#222" stroke-width="0.8"/><text x="132.6" y="215.5" font-size="10.3" fill="#111">Fitted profile</text><path d="M114.2 225.5h15.4" stroke="#55f" stroke-width="0.8" stroke-dasharray="3.2 2.4"/><text x="132.6" y="228.1" font-size="10.3" fill="#00f">Residual</text><path d="M122.5 236.4v4.6" stroke="#5b5" stroke-width="0.7"/><text x="132.6" y="240.7" font-size="10.3" fill="#191">Bragg_position</text></g>
<g><g stroke="#f00" fill="none"><path d="M271.8 292H444.3" stroke-width="2.1"/><path d="M276.4 292V291.4M278.9 292V287.8M292.1 292V291.7M293.8 292V284.7M314.3 292V291.3" stroke-width="2.3" stroke-linecap="round" stroke-dasharray="0 1.45"/><path d="M327.1 292Q328.9 290.5 329.1 276h1Q330.3 290.5 332.1 292z" fill="#f00" stroke-width="0.4"/><path d="M329.6 247.9v1.6M329.1 251.5h0M329.1 259.6h0M329.1 269.5h0M329.1 277h0M329.1 283.5h0M271.5 292.06h0M272.5 291.91h0M273.4 292.23h0M274.1 291.91h0M274.4 291.88h0M275.4 291.46h0M275.7 291.93h0M276.2 292.1h0M277.1 292.61h0M277.9 292.06h0M278.6 292.17h0M279 291.93h0M279.8 292.35h0M280.2 291.8h0M281.3 292.1h0M281.7 292.61h0M282.5 291.99h0M282.9 291.94h0M283.8 292.07h0M284.7 291.97h0M285.3 292.13h0M285.8 292.23h0M286.3 292.16h0M286.9 291.97h0M287.8 291.54h0M288.5 292.82h0M289.1 292.4h0M289.9 292.12h0M290.6 292.39h0M291.4 291.7h0M292.1 292.2h0M292.5 292.02h0M293.2 292.12h0M293.9 292.04h0M294.7 292.38h0M295.4 292.05h0M295.8 291.86h0M296.3 291.88h0M297.2 292.01h0M298 291.74h0M298.7 291.86h0M299.2 291.97h0M299.5 292.12h0M300.6 291.78h0M301.4 292.37h0M301.7 291.8h0M302.5 291.71h0M303.4 291.59h0M303.9 292.17h0M304.3 292.11h0M304.8 292.18h0M306 291.83h0M306.7 291.92h0M306.9 292.1h0M308 292.38h0M308.5 291.98h0M309.3 292.12h0M309.6 292.02h0M310.2 292.08h0M311.4 291.29h0M311.9 291.94h0M312.2 291.85h0M313.4 292.03h0M313.7 292.16h0M314.2 292.48h0M314.9 291.83h0M315.8 291.67h0M316.6 292.1h0M317.3 291.98h0M317.5 291.85h0M318.4 292.79h0M319.1 292.27h0M319.8 291.92h0M320.2 291.92h0M321.2 291.9h0M321.9 292.16h0M322.6 292.16h0M323.2 291.99h0M323.7 291.75h0M324.2 292.35h0M325.1 292.28h0M325.9 292.05h0M326.2 291.66h0M327.2 292.31h0M327.5 291.73h0M328.6 291.98h0M329 292.58h0M329.6 291.92h0M330.2 292.59h0M331.2 291.89h0M331.6 292.32h0M332.7 291.86h0M332.9 291.83h0M333.9 291.67h0M334.4 292.18h0M335.4 291.68h0M336 292.45h0M336.2 291.86h0M336.9 292.12h0M337.9 291.55h0M338.3 291.95h0M339.1 291.66h0M339.9 291.88h0M340.2 292.34h0M340.9 292.1h0M341.8 292.28h0M342.2 292.28h0M342.8 291.59h0M344 292.05h0M344.5 292.12h0M345.2 291.64h0M345.9 291.71h0M346.5 291.95h0M347.1 292.34h0M347.7 291.86h0M348.6 292.23h0M349 291.41h0M349.5 292.04h0M350.6 292.5h0M351.1 292.07h0M351.9 291.74h0M352.6 291.84h0M352.9 292.09h0M353.5 292.25h0M354.2 292.05h0M354.8 292.4h0M355.4 292.08h0M356.2 292.11h0M356.8 291.84h0M357.9 291.99h0M358.2 291.71h0M359 291.92h0M359.9 292.37h0M360.6 291.84h0M360.9 292.16h0M361.9 291.89h0M362.5 292.2h0M363.2 291.79h0M363.5 292.08h0M364.6 292.25h0M364.8 292.2h0M365.7 292.09h0M366.1 292.09h0M367 292.04h0M367.6 291.98h0M368.3 292.12h0M369.2 291.73h0M369.5 292.4h0M370.1 291.8h0M370.8 291.99h0M371.9 291.38h0M372.4 291.93h0M372.9 292.24h0M373.9 292.29h0M374.5 291.92h0M375 292.2h0M375.7 291.59h0M376.1 292.15h0M377 292.44h0M377.4 292.05h0M378.1 291.78h0M378.7 291.83h0M379.7 291.55h0M380.1 291.89h0M380.9 291.63h0M381.8 292.2h0M382.3 291.87h0M383.3 291.98h0M383.4 292.29h0M384.6 292.14h0M384.7 291.8h0M385.7 292.03h0M386.2 292.08h0M386.7 292.35h0M387.6 292.18h0M388.2 291.9h0M389.2 292.15h0M389.5 292.21h0M390.4 292.67h0M391.1 292.01h0M391.9 291.65h0M392.3 291.49h0M392.9 291.51h0M393.5 292.07h0M394.2 292.32h0M395.1 292h0M395.6 291.93h0M396.1 292.33h0M396.9 291.92h0M397.6 292.14h0M398.1 292.08h0M399.1 292.34h0M399.5 291.64h0M400.3 292.18h0M401.1 292.2h0M401.5 292.15h0M402.3 292.08h0M403.3 291.63h0M403.8 291.74h0M404.4 292.08h0M405 292.04h0M405.8 291.81h0M406.3 291.91h0M407 292.05h0M407.5 291.95h0M408.3 292.01h0M409.2 292.59h0M409.8 292.07h0M410.3 291.77h0M411.2 291.89h0M411.5 292.17h0M412.1 291.98h0M413.2 292.06h0M413.7 292.05h0M414.3 291.87h0M414.9 291.92h0M415.7 291.78h0M416.2 292.12h0M417.1 292.12h0M417.8 292.08h0M418.2 292.24h0M418.8 292.07h0M419.6 291.9h0M420.4 291.89h0M420.7 291.9h0M421.9 292.37h0M422.6 292.11h0M423.2 291.85h0M423.8 292.08h0M424.1 291.86h0M425 291.84h0M425.9 291.87h0M426.1 291.77h0M426.9 291.54h0M427.4 291.82h0M428.6 292.27h0M429.2 291.91h0M429.4 292.2h0M430.1 291.99h0M430.8 291.99h0M431.4 292.01h0M432.3 292.25h0M433 292.05h0M433.8 292.21h0M434.4 292.13h0M435.2 292.05h0M435.9 291.79h0M436.3 292.01h0M436.9 291.94h0M437.7 292.01h0M438.3 291.79h0M438.8 292.2h0M439.6 291.78h0M440.4 292.04h0M440.8 291.88h0M441.8 292.38h0M442.4 291.99h0M443 292.45h0M443.4 291.97h0M444.4 292.47h0" stroke-width="1.6" stroke-linecap="round"/></g><path d="M271.8 292.2H444.3" stroke="#000" stroke-opacity="0.62" stroke-width="1.6" fill="none"/><path d="M276.9 292.2V289.96M279.5 292.2V288.66M292.7 292.2V290.46M294.3 292.2V287.72M314.8 292.2V290.71" stroke="#000" stroke-opacity=".72" stroke-width="1.0" fill="none"/><path d="M327.9 292.7Q329.2 291.2 329.3 278.2h.6Q330 291.2 331.3 292.7z" fill="#000" fill-opacity=".5"/><path d="M329.6 292.2V249" stroke="#1a1a1a" stroke-width="1.0" fill="none"/><path d="M268.9 296.8v4.8M269.8 296.8v4.8M271.8 296.8v4.8M272.5 296.8v4.8M274.1 296.8v4.8M276.1 296.8v4.8M277 296.8v4.8M279.3 296.8v4.8M283.9 296.8v4.8M287 296.8v4.8M292.6 296.8v4.8M294 296.8v4.8M299.8 296.8v4.8M310.7 296.8v4.8M314.6 296.8v4.8M329.7 296.8v4.8M371.5 296.8v4.8M393 296.8v4.8" stroke="#2aa52a" stroke-width="0.8" fill="none"/><g fill="none" stroke="#4848ff" stroke-width="0.8"><path d="M271.8 304.53H422.4" stroke-dasharray="1.9 .9 .6 .9"/><path d="M424.8 304.53H444.3" stroke-dasharray="2.9 3"/><path d="M294.1 304.87V302.55" stroke-dasharray="1.1 .7"/><path d="M293.2 304.98v-1M314.6 304.08v-0.37M276.7 304.13v-0.9M279.2 304.13v-1M371.5 304.13v-.7M393 304.13v-.7"/><path d="M329.6 303.56V305.81" stroke-width="1.5"/></g><rect x="264.55" y="186.8" width="186.45" height="138.9" fill="none" stroke="#7c7c7c" stroke-width="1"/><path d="M264.6 319.1h2.4M264.6 305.9h1.3M264.6 292.6h2.4M264.6 279.4h1.3M264.6 266.2h2.4M264.6 252.9h1.3M264.6 239.7h2.4M264.6 226.5h1.3M264.6 213.3h2.4M264.6 200h1.3M264.6 186.8h2.4M276.1 325.7v-2.4M288 325.7v-1.2M300 325.7v-2.4M311.9 325.7v-1.2M323.8 325.7v-2.4M335.7 325.7v-1.2M347.7 325.7v-2.4M359.6 325.7v-1.2M371.5 325.7v-2.4M383.5 325.7v-1.2M395.4 325.7v-2.4M407.3 325.7v-1.2M419.2 325.7v-2.4M431.2 325.7v-1.2M443.1 325.7v-2.4" stroke="#555" stroke-width="0.9" fill="none"/><text x="261.2" y="322" font-size="9.7" text-anchor="end" fill="#111">-20</text><text x="261.2" y="295.6" font-size="9.7" text-anchor="end" fill="#111">0</text><text x="261.2" y="269.1" font-size="9.7" text-anchor="end" fill="#111">20</text><text x="261.2" y="242.7" font-size="9.7" text-anchor="end" fill="#111">40</text><text x="261.2" y="216.2" font-size="9.7" text-anchor="end" fill="#111">60</text><text x="261.2" y="189.8" font-size="9.7" text-anchor="end" fill="#111">80</text><text x="276.1" y="336.2" font-size="9.7" text-anchor="middle" fill="#111">0.6</text><text x="300" y="336.2" font-size="9.7" text-anchor="middle" fill="#111">0.9</text><text x="323.8" y="336.2" font-size="9.7" text-anchor="middle" fill="#111">1.2</text><text x="347.7" y="336.2" font-size="9.7" text-anchor="middle" fill="#111">1.5</text><text x="371.5" y="336.2" font-size="9.7" text-anchor="middle" fill="#111">1.8</text><text x="395.4" y="336.2" font-size="9.7" text-anchor="middle" fill="#111">2.1</text><text x="419.2" y="336.2" font-size="9.7" text-anchor="middle" fill="#111">2.4</text><text x="443.1" y="336.2" font-size="9.7" text-anchor="middle" fill="#111">2.7</text><text x="357.5" y="352.4" font-size="10" text-anchor="middle" fill="#111">d-spacing (<tspan font-size="8" font-weight="normal" fill="#444">Å</tspan>)</text><text transform="translate(243.8 256.4) rotate(-90)" font-size="10.5" text-anchor="middle" fill="#111">Intensity (a.u.)</text><text x="273.2" y="204" font-family="'Liberation Serif', 'Times New Roman', serif" font-size="18" fill="#000">e</text><circle cx="357.8" cy="200.6" r="0.8" fill="#f00"/><text x="368" y="203.1" font-size="10.3" fill="#f00">Neutron profile</text><path d="M349.6 213.4h15.4" stroke="#222" stroke-width="0.8"/><text x="368" y="215.8" font-size="10.3" fill="#111">Fitted profile</text><path d="M349.6 225.8h15.4" stroke="#55f" stroke-width="0.8" stroke-dasharray="3.2 2.4"/><text x="368" y="228.4" font-size="10.3" fill="#00f">Residual</text><path d="M357.5 236.7v4.6" stroke="#5b5" stroke-width="0.7"/><text x="368" y="241" font-size="10.3" fill="#191">Bragg_position</text></g>
</svg>
</body></html>
